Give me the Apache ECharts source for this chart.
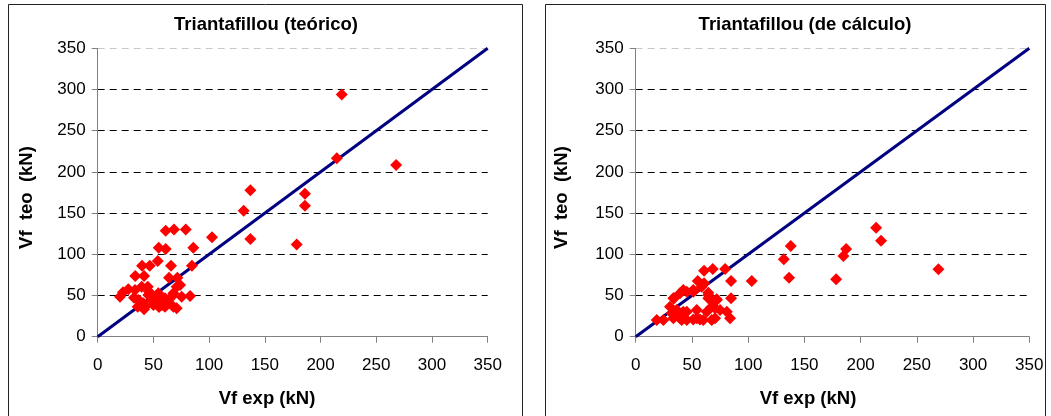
<!DOCTYPE html>
<html><head><meta charset="utf-8">
<script src="https://cdn.jsdelivr.net/npm/echarts@6/dist/echarts.min.js"></script>
<style>html,body{margin:0;padding:0;background:#fff}#c{width:1051px;height:416px}</style>
</head><body><div id="c"></div>
<script>
// ---- data ----
const panelTitles = ['Triantafillou (teórico)', 'Triantafillou (de cálculo)'];
const xName = 'Vf exp (kN)';
const yName = 'Vf  teo  (kN)';
const axisMin = 0, axisMax = 350, axisStep = 50;
const refLine = [[0, 0], [350, 350]];

// Triantafillou (teórico): [Vf exp, Vf teo]
const teoricoPoints = [
  [219, 294], [214.6, 216.5], [267.8, 208.4], [137, 177.7], [131, 153], [186, 173.5],
  [186, 159], [137, 118.6], [178.6, 112], [102.6, 120.6], [85.8, 108], [84.6, 86],
  [82.9, 49.4], [79, 130], [68.5, 130], [61, 128.6], [61, 106.4], [54.8, 108],
  [53.9, 92], [65.8, 86], [46.7, 86], [39.8, 86], [41.6, 73.7], [33.7, 73.7],
  [64, 71.6], [71.5, 71.6], [20, 48.5], [22.7, 53.9],
  [27.5, 57.5], [32.6, 47.3], [33.5, 56.7], [35.9, 36.4], [36.4, 44.5], [39.5, 60.7],
  [40.9, 40.5], [41.6, 33.2], [42.5, 36.4], [44.9, 60.7], [45.4, 50.6], [48.5, 44.5],
  [50, 38.5], [53, 48.5], [54.4, 52.7], [57.4, 42.5], [57.7, 38.5], [60.4, 36.4],
  [60.4, 46.6], [66.4, 48.5], [67.9, 52.7], [67.9, 36.4], [70.9, 34.5], [70.9, 60.7],
  [73.9, 62.7], [75.4, 48.5], [38, 43], [46, 55], [63, 40], [55, 36]
];

// Triantafillou (de cálculo): [Vf exp, Vf teo]
const calculoPoints = [
  [213.8, 132.3], [218.2, 116.5], [269.2, 81.8], [187.1, 106.4], [184.7, 97.9], [178.2, 69.6],
  [137.9, 110], [131.7, 93.9], [136.4, 71.6], [103.2, 67.6], [84.8, 67.6], [84.8, 46.6],
  [83.9, 22.3], [81, 30.4], [79.5, 82.2], [68.5, 82.2], [60.8, 80.1], [60.8, 64.8],
  [55.2, 67.6], [51.3, 54.6], [64.6, 53.4], [45.4, 54.6], [39.4, 52.7], [34.1, 46.6],
  [18.7, 20.3], [24.6, 20.3], [72, 45.4],
  [30.5, 36.4], [32, 28.4], [33.5, 22.3], [33.5, 46.6], [36.5, 32.4], [39.4, 22.3],
  [40.9, 20.3], [42.3, 30.4], [42.3, 56.7], [45.4, 20.3], [45.4, 30.4], [51.2, 56.7],
  [51.2, 21], [54.3, 22.3], [54.3, 32.4], [57.2, 21], [58.7, 60.7], [60.1, 20.3],
  [63.2, 30.4], [64.6, 50.6], [64.6, 46.6], [67.6, 20.3], [67.6, 36.4], [67.6, 44.5],
  [70.6, 22.3], [70.6, 34.5], [72.1, 44.5], [75, 32.4]
];

// ---- chart ----
const FONT = "Arial, 'Liberation Sans', sans-serif";
const grids = [
  { left: 97.7, top: 48.3, width: 390, height: 288.4 },
  { left: 635.7, top: 48.3, width: 393.6, height: 288.4 }
];
const splitColors = ['#000', '#000', '#000', '#000', '#000', '#000', '#000', '#c8c8c8'];

function xAxisFor(i) {
  return {
    gridIndex: i, type: 'value', min: axisMin, max: axisMax, interval: axisStep,
    axisLine: { show: true, onZero: false, lineStyle: { color: '#808080', width: 1 } },
    axisTick: { show: true, inside: false, length: 6, lineStyle: { color: '#808080' } },
    axisLabel: { color: '#000', fontSize: 17, fontFamily: FONT, margin: 20 },
    splitLine: { show: false }
  };
}
function yAxisFor(i) {
  return {
    gridIndex: i, type: 'value', min: axisMin, max: axisMax, interval: axisStep,
    axisLine: { show: true, onZero: false, lineStyle: { color: '#808080', width: 1 } },
    axisTick: { show: true, inside: false, length: 6, lineStyle: { color: '#808080' } },
    axisLabel: { color: '#000', fontSize: 17, fontFamily: FONT, margin: 12 },
    splitLine: { show: true, lineStyle: { color: splitColors, width: 1, type: [7, 5] } }
  };
}

const textStyleBold = { fontFamily: FONT, fontWeight: 'bold', fontSize: 18.5, fill: '#000' };
const graphics = [
  { type: 'rect', shape: { x: 8.5, y: 4.5, width: 514, height: 430 }, style: { fill: 'none', stroke: '#222', lineWidth: 1 }, silent: true, z: -10 },
  { type: 'rect', shape: { x: 545.5, y: 4.5, width: 500, height: 430 }, style: { fill: 'none', stroke: '#222', lineWidth: 1 }, silent: true, z: -10 },
  { type: 'text', x: 267, y: 398.5, style: Object.assign({ text: xName, align: 'center', verticalAlign: 'middle' }, textStyleBold) },
  { type: 'text', x: 808, y: 398.5, style: Object.assign({ text: xName, align: 'center', verticalAlign: 'middle' }, textStyleBold) },
  { type: 'text', x: 27, y: 197.5, rotation: Math.PI / 2, style: Object.assign({ text: yName, align: 'center', verticalAlign: 'middle' }, textStyleBold) },
  { type: 'text', x: 562, y: 197.5, rotation: Math.PI / 2, style: Object.assign({ text: yName, align: 'center', verticalAlign: 'middle' }, textStyleBold) }
];

const chart = echarts.init(document.getElementById('c'), null, { renderer: 'canvas' });
chart.setOption({
  animation: false,
  backgroundColor: '#fff',
  title: [
    { text: panelTitles[0], left: 261, top: 10, textAlign: 'center', textStyle: { fontFamily: FONT, fontWeight: 'bold', fontSize: 18.5, color: '#000' } },
    { text: panelTitles[1], left: 800, top: 10, textAlign: 'center', textStyle: { fontFamily: FONT, fontWeight: 'bold', fontSize: 18.5, color: '#000' } }
  ],
  grid: grids,
  xAxis: [xAxisFor(0), xAxisFor(1)],
  yAxis: [yAxisFor(0), yAxisFor(1)],
  graphic: graphics,
  series: [
    { type: 'line', xAxisIndex: 0, yAxisIndex: 0, data: refLine, showSymbol: false, symbol: 'none', lineStyle: { color: '#000080', width: 3 }, z: 2 },
    { type: 'scatter', xAxisIndex: 0, yAxisIndex: 0, data: teoricoPoints, symbol: 'diamond', symbolSize: 12, itemStyle: { color: '#ff0000', opacity: 1 }, z: 3 },
    { type: 'line', xAxisIndex: 1, yAxisIndex: 1, data: refLine, showSymbol: false, symbol: 'none', lineStyle: { color: '#000080', width: 3 }, z: 2 },
    { type: 'scatter', xAxisIndex: 1, yAxisIndex: 1, data: calculoPoints, symbol: 'diamond', symbolSize: 12, itemStyle: { color: '#ff0000', opacity: 1 }, z: 3 }
  ]
});
</script>
</body></html>
